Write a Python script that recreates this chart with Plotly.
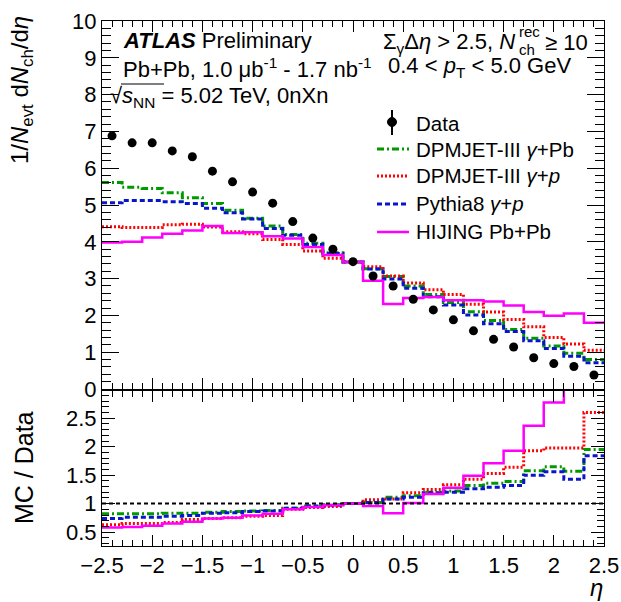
import plotly.graph_objects as go

# ---------------- data ----------------
eta_edges = [round(-2.5 + 0.2 * i, 1) for i in range(26)]
eta_centers = [round(-2.4 + 0.2 * i, 1) for i in range(25)]

data_vals = [6.88, 6.69, 6.69, 6.47, 6.31, 5.92, 5.63, 5.35, 5.05, 4.55, 4.10, 3.80, 3.46,
             3.07, 2.80, 2.44, 2.15, 1.88, 1.58, 1.35, 1.14, 0.85, 0.69, 0.61, 0.38]

dpmjet_pb = [5.61, 5.48, 5.45, 5.33, 5.20, 5.04, 4.86, 4.64, 4.43, 4.20, 3.96, 3.70, 3.45,
             3.27, 3.06, 2.80, 2.57, 2.35, 2.10, 1.86, 1.62, 1.38, 1.17, 0.97, 0.80]
dpmjet_p = [4.41, 4.39, 4.39, 4.46, 4.48, 4.40, 4.27, 4.22, 4.06, 3.93, 3.75, 3.55, 3.45,
            3.32, 3.07, 2.88, 2.70, 2.57, 2.30, 2.09, 1.89, 1.69, 1.40, 1.22, 1.05]
pythia_p = [5.06, 5.12, 5.12, 5.09, 5.04, 4.91, 4.79, 4.62, 4.36, 4.18, 3.93, 3.68, 3.45,
            3.26, 2.99, 2.74, 2.51, 2.28, 2.01, 1.77, 1.56, 1.31, 1.10, 0.89, 0.71]
hijing = [3.98, 4.00, 4.12, 4.22, 4.31, 4.43, 4.24, 4.26, 4.15, 4.09, 3.86, 3.64, 3.45,
          2.94, 2.31, 2.47, 2.50, 2.41, 2.41, 2.38, 2.27, 2.09, 1.99, 2.05, 1.80]

ratio_dpmjet_pb = [0.82, 0.82, 0.82, 0.83, 0.83, 0.85, 0.86, 0.87, 0.88, 0.92, 0.96, 0.98, 1.00,
                   1.02, 1.11, 1.14, 1.20, 1.22, 1.32, 1.36, 1.39, 1.58, 1.65, 1.57, 1.95]
ratio_dpmjet_p = [0.63, 0.65, 0.65, 0.67, 0.72, 0.74, 0.75, 0.78, 0.79, 0.90, 0.93, 0.95, 1.00,
                  1.07, 1.08, 1.19, 1.25, 1.33, 1.43, 1.53, 1.64, 1.93, 1.98, 1.98, 2.60]
ratio_pythia_p = [0.74, 0.76, 0.76, 0.78, 0.79, 0.83, 0.84, 0.86, 0.87, 0.92, 0.96, 0.97, 1.00,
                  1.02, 1.08, 1.11, 1.19, 1.20, 1.26, 1.29, 1.32, 1.50, 1.56, 1.43, 1.84]
ratio_hijing = [0.58, 0.59, 0.61, 0.65, 0.68, 0.74, 0.75, 0.79, 0.82, 0.90, 0.94, 0.97, 1.00,
                0.96, 0.83, 1.01, 1.17, 1.28, 1.49, 1.71, 1.93, 2.37, 2.78, 3.40, 4.70]

ratio_ticks = [0.5, 1, 1.5, 2, 2.5]

# ---------------- styles ----------------
FONT = "Liberation Sans, Arial, Helvetica, sans-serif"
GREEN = "#009a00"
RED = "#ff0000"
BLUE = "#0a14cc"
MAGENTA = "#ff00ff"

series = [
    ("DPMJET-III <i>γ</i>+Pb", dpmjet_pb, ratio_dpmjet_pb, GREEN, "7px,3px,2px,3px", 3),
    ("DPMJET-III <i>γ</i>+<i>p</i>", dpmjet_p, ratio_dpmjet_p, RED, "2px,2px", 3),
    ("Pythia8 <i>γ</i>+<i>p</i>", pythia_p, ratio_pythia_p, BLUE, "5px,3px", 3),
    ("HIJING Pb+Pb", hijing, ratio_hijing, MAGENTA, "solid", 2.5),
]

W, H = 621, 602
L, R, T, B = 102, 17, 21, 56
PW, PH = W - L - R, H - T - B


def px(xp):
    return (xp - L) / PW


def py(yp):
    return (H - B - yp) / PH


fig = go.Figure()

for name, vals, rvals, col, dash, lw in series:
    fig.add_trace(go.Scatter(x=eta_edges, y=vals + [vals[-1]], mode="lines",
                             line=dict(color=col, dash=dash, width=lw, shape="hv"),
                             xaxis="x", yaxis="y", showlegend=False, name=name))
for name, vals, rvals, col, dash, lw in series:
    fig.add_trace(go.Scatter(x=eta_edges, y=rvals + [rvals[-1]], mode="lines",
                             line=dict(color=col, dash=dash, width=lw, shape="hv"),
                             xaxis="x2", yaxis="y2", showlegend=False, name=name))

fig.add_trace(go.Scatter(x=[eta_edges[0], eta_edges[-1]], y=[1, 1], mode="lines",
                         line=dict(color="black", dash="4px,3px", width=2),
                         xaxis="x2", yaxis="y2", showlegend=False))

fig.add_trace(go.Scatter(x=eta_centers, y=data_vals, mode="markers",
                         marker=dict(color="black", size=9, symbol="circle"),
                         xaxis="x", yaxis="y", showlegend=False, name="Data"))

main_bottom = py(389)
ratio_top = py(391)

common_x = dict(range=[-2.5, 2.5], dtick=0.5, tick0=-2.5, ticks="inside", tickcolor="black",
                showline=True, linecolor="black", linewidth=1, mirror="ticks",
                showgrid=False, zeroline=False, automargin=False,
                minor=dict(dtick=0.1, tick0=-2.5, ticks="inside", ticklen=6, tickcolor="black"))

fig.update_layout(
    width=W, height=H, autosize=False,
    margin=dict(l=L, r=R, t=T, b=B),
    paper_bgcolor="white", plot_bgcolor="white",
    font=dict(family=FONT, size=22, color="black"),
    xaxis=dict(domain=[0, 1], anchor="y", showticklabels=False, ticklen=11, **common_x),
    yaxis=dict(domain=[main_bottom, 1], anchor="x", range=[0, 10], dtick=1, tick0=0,
               ticks="inside", ticklen=17, tickcolor="black", showline=True, linecolor="black",
               mirror="ticks", showgrid=False, zeroline=False, automargin=False,
               tickfont=dict(size=22),
               minor=dict(dtick=0.2, ticks="inside", ticklen=9, tickcolor="black")),
    xaxis2=dict(domain=[0, 1], anchor="y2", ticklen=11, tickfont=dict(size=22), **common_x),
    yaxis2=dict(domain=[0, ratio_top], anchor="x2", range=[0.255, 2.98],
                tickvals=ratio_ticks, ticktext=[str(t) for t in ratio_ticks],
                ticks="inside", ticklen=13, tickcolor="black", showline=True, linecolor="black",
                mirror="ticks", showgrid=False, zeroline=False, automargin=False,
                tickfont=dict(size=22),
                minor=dict(dtick=0.1, tick0=0, ticks="inside", ticklen=7, tickcolor="black")),
)

ann = []


def add_text(text, x, y, xanchor="left", size=22, yanchor="middle", angle=0):
    ann.append(dict(text=text, x=px(x), y=py(y), xref="paper", yref="paper",
                    xanchor=xanchor, yanchor=yanchor, showarrow=False, textangle=angle,
                    font=dict(family=FONT, size=size, color="black")))


add_text("<b><i>ATLAS</i></b> Preliminary", 121, 41)
add_text("Pb+Pb, 1.0 μb<sup>-1</sup> - 1.7 nb<sup>-1</sup>", 121, 68)
add_text("√<i>s</i><sub>NN</sub> = 5.02 TeV, 0nXn", 108, 97)

add_text("Σ<sub>γ</sub>Δ<i>η</i> > 2.5, <i>N</i>", 381, 43)
add_text("rec", 517, 31, size=15)
add_text("ch", 517, 49, size=15)
add_text("≥ 10", 590, 42, xanchor="right")
add_text("0.4 < <i>p</i><sub>T</sub> < 5.0 GeV", 386, 67)

# legend
leg_rows = [("Data", 124), ("DPMJET-III <i>γ</i>+Pb", 149), ("DPMJET-III <i>γ</i>+<i>p</i>", 176),
            ("Pythia8 <i>γ</i>+<i>p</i>", 203), ("HIJING Pb+Pb", 231)]
for txt, yy in leg_rows:
    add_text(txt, 414, yy, size=20.5)

# axis titles
add_text("1/<i>N</i><sub>evt</sub> d<i>N</i><sub>ch</sub>/d<i>η</i>", 22, 14, xanchor="center",
         yanchor="top", size=24, angle=-90)
add_text("MC / Data", 24, 468, xanchor="center", size=25, angle=-90)
add_text("<i>η</i>", 596, 587, xanchor="center", size=24)

shapes = []
# legend symbols
shapes.append(dict(type="line", xref="paper", yref="paper", x0=px(392), x1=px(392),
                   y0=py(110), y1=py(135), line=dict(color="black", width=2)))
shapes.append(dict(type="circle", xref="paper", yref="paper", x0=px(387.5), x1=px(396.5),
                   y0=py(117.5), y1=py(126.5), fillcolor="black", line=dict(color="black", width=1)))
for (name, vals, rvals, col, dash, lw), yy in zip(series, [149, 176, 204, 232]):
    shapes.append(dict(type="line", xref="paper", yref="paper", x0=px(377), x1=px(409),
                       y0=py(yy), y1=py(yy), line=dict(color=col, dash=dash, width=lw)))
# overline of sqrt
shapes.append(dict(type="line", xref="paper", yref="paper", x0=px(121), x1=px(164),
                   y0=py(84), y1=py(84), line=dict(color="black", width=1.2)))

fig.update_layout(annotations=ann, shapes=shapes)

post = ("document.documentElement.style.margin='0px';document.body.style.margin='0px';"
        "document.body.style.padding='0px';document.documentElement.style.overflow='hidden';"
        "document.body.style.overflow='hidden';")

fig.write_html("out.html", config={"displayModeBar": False, "responsive": False},
               post_script=post)
